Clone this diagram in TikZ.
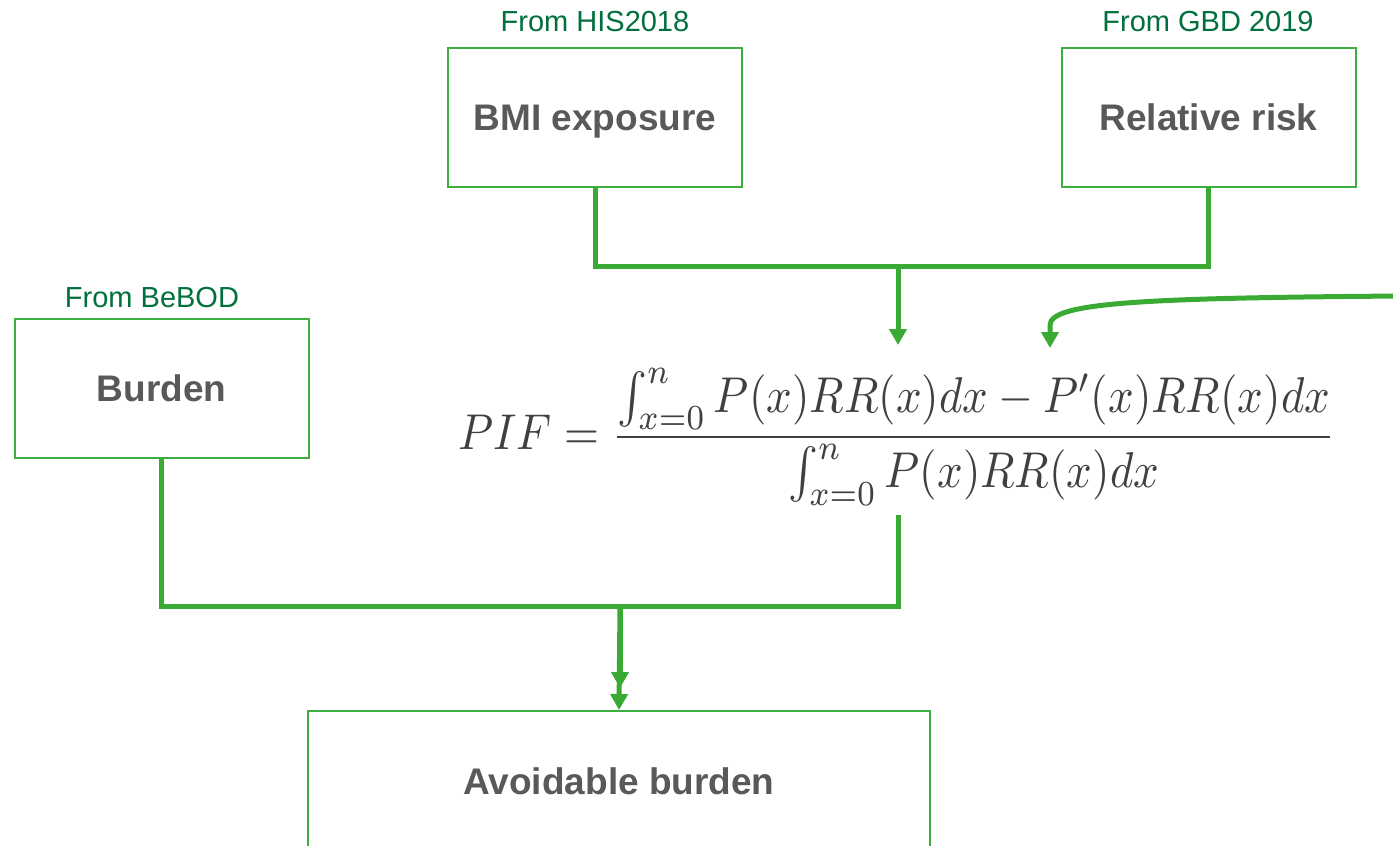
\documentclass[tikz,border=0pt]{standalone}
\usepackage{fontspec}
\setmainfont{Liberation Sans}
\usetikzlibrary{arrows.meta}
\definecolor{boxgreen}{HTML}{3DAE3D}
\definecolor{linegreen}{HTML}{3AAA35}
\definecolor{labgreen}{HTML}{00703C}
\definecolor{txtgrey}{HTML}{595959}
\definecolor{mathgrey}{HTML}{404040}
\begin{document}
\begin{tikzpicture}[x=0.5pt,y=-0.5pt,
  box/.style={draw=boxgreen, line width=1pt, fill=white, minimum width=147pt, minimum height=69.5pt,
    inner sep=0pt, text height=13.3pt, text depth=0pt,
    font=\fontsize{18.5pt}{22pt}\selectfont\bfseries, text=txtgrey},
  srclabel/.style={font=\fontsize{14.5pt}{17pt}\selectfont, text=labgreen, inner sep=0pt},
  conn/.style={draw=linegreen, line width=2.5pt},
  arr/.style={conn, -{Triangle[width=8.5pt,length=8pt]}}]
\useasboundingbox (0,0) rectangle (1393,846);
\clip (0,0) rectangle (1393,846);
\fill[white] (0,0) rectangle (1393,846);

\node[box] (bmi) at (595,117.5) {BMI exposure};
\node[box] (rr) at (1208.5,117.5) {Relative risk};
\node[box] (burden) at (161.5,388.5) {Burden};
\node[box, minimum width=311pt, minimum height=70pt] (avoid) at (619,781) {Avoidable burden};

\node[srclabel] (lbmi) at (595,22) {From HIS2018};
\node[srclabel] (lrr) at (1208,22) {From GBD 2019};
\node[srclabel] (lbur) at (152,298) {From BeBOD};

\node[anchor=west, inner sep=0pt, text=mathgrey] (pif) at (458,437)
  {\scalebox{1}[1.12]{\resizebox{438.5pt}{!}{$\displaystyle PIF=\frac{\int_{x=0}^{n}P(x)RR(x)dx-P'(x)RR(x)dx}{\int_{x=0}^{n}P(x)RR(x)dx}$}}};

% top T junction
\coordinate (tj) at (898,266);
\draw[conn, line join=miter] (bmi.south) -- (bmi.south |- tj) -- (rr.south |- tj) -- (rr.south);
\coordinate (pifin) at (898,345);
\draw[arr] (tj) -- (pifin);

% curved arrow from right
\coordinate (cstart) at (1400,296);
\coordinate (cend) at (1050,348);
\draw[arr] (cstart) .. controls (1150,298) and (1050,302) .. (1050,325) -- (cend);

% bottom junction
\coordinate (pifout) at (898,515);
\coordinate (bj) at (620,606);
\draw[conn, line join=miter] (burden.south) -- (burden.south |- bj) -- (bj);
\draw[conn, line join=miter] (pifout) -- (pifout |- bj) -- (bj);
\coordinate (a1) at (620,688);
\draw[arr] (bj) -- (a1);
\draw[arr] (bj) -- (avoid.north);
\end{tikzpicture}
\end{document}
